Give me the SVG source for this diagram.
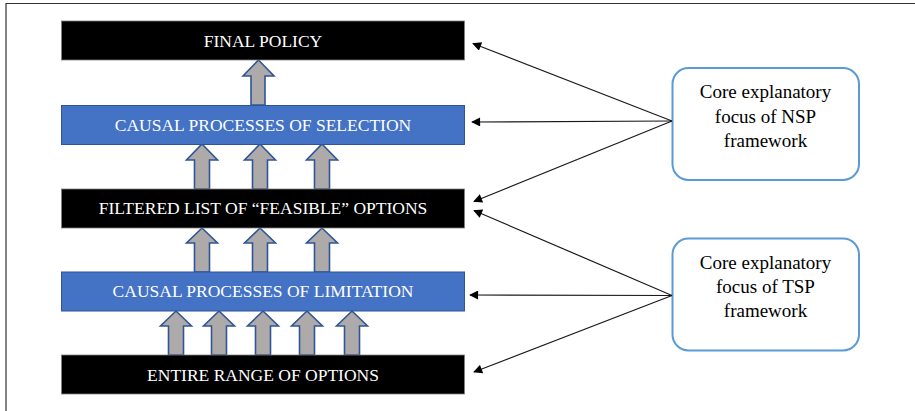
<svg xmlns="http://www.w3.org/2000/svg" width="915" height="411" viewBox="0 0 915 411">
  <style>
    .frame { fill: none; stroke: #333; stroke-width: 1.2; }
    .dark { fill: #000; stroke: #7f7f7f; stroke-width: 0.8; }
    .blue { fill: #4472c4; stroke: #2f5597; stroke-width: 1; }
    .lbl { font-family: "Liberation Serif", "Times New Roman", serif; font-size: 17.5px; fill: #fff; text-anchor: middle; }
    .up { fill: #aeaaaa; stroke: #2f5597; stroke-width: 1.6; stroke-linejoin: miter; }
    .callout { fill: #fff; stroke: #5b9bd5; stroke-width: 2; }
    .ctext { font-family: "Liberation Serif", "Times New Roman", serif; font-size: 19px; fill: #000; text-anchor: middle; }
    .link { stroke: #1a1a1a; stroke-width: 1.2; fill: none; marker-end: url(#tip); }
  </style>
  <defs>
    <marker id="tip" viewBox="0 0 10 10" refX="9" refY="5" markerWidth="10" markerHeight="9" markerUnits="userSpaceOnUse" orient="auto">
      <path d="M0,0 L10,5 L0,10 z" fill="#000"/>
    </marker>
    <!-- block arrow pointing up, tip at origin -->
    <path id="upA" d="M0,0 L15.5,16 L7.5,16 L7.5,45 L-7.5,45 L-7.5,16 L-15.5,16 Z"/>
    <path id="upB" d="M0,0 L15.5,15 L7.5,15 L7.5,44 L-7.5,44 L-7.5,15 L-15.5,15 Z"/>
  </defs>

  <!-- outer frame (top and left edges) -->
  <path class="frame" d="M6,411 L6,3.5 L915,3.5"/>

  <!-- upward block arrows -->
  <g id="flow-arrows">
    <path class="up" d="M258.5,60 L274,76 L265,76 L265,105 L251,105 L251,76 L243,76 Z"/>
    <use href="#upA" class="up" x="202" y="144"/>
    <use href="#upA" class="up" x="260" y="144"/>
    <use href="#upA" class="up" x="322" y="144"/>
    <use href="#upB" class="up" x="202" y="228"/>
    <use href="#upB" class="up" x="260" y="228"/>
    <use href="#upB" class="up" x="322" y="228"/>
    <use href="#upB" class="up" x="176" y="311"/>
    <use href="#upB" class="up" x="219" y="311"/>
    <use href="#upB" class="up" x="263" y="311"/>
    <use href="#upB" class="up" x="307" y="311"/>
    <use href="#upB" class="up" x="352" y="311"/>
  </g>

  <g id="final-policy">
    <rect class="dark" x="61.5" y="21" width="403" height="39"/>
    <text class="lbl" x="263" y="46.5">FINAL POLICY</text>
  </g>
  <g id="selection">
    <rect class="blue" x="61.5" y="105.5" width="403" height="39"/>
    <text class="lbl" x="263" y="131">CAUSAL PROCESSES OF SELECTION</text>
  </g>
  <g id="feasible">
    <rect class="dark" x="61.5" y="189" width="403" height="39"/>
    <text class="lbl" x="263" y="213.5">FILTERED LIST OF “FEASIBLE” OPTIONS</text>
  </g>
  <g id="limitation">
    <rect class="blue" x="61.5" y="272" width="403" height="39"/>
    <text class="lbl" x="263" y="297">CAUSAL PROCESSES OF LIMITATION</text>
  </g>
  <g id="entire-range">
    <rect class="dark" x="61.5" y="355" width="403" height="39"/>
    <text class="lbl" x="263" y="380.5">ENTIRE RANGE OF OPTIONS</text>
  </g>

  <g id="nsp-focus">
    <rect class="callout" x="672.5" y="68" width="186.5" height="112" rx="16"/>
    <text class="ctext" x="765.5" y="98">Core explanatory</text>
    <text class="ctext" x="765.5" y="122.5">focus of NSP</text>
    <text class="ctext" x="765.5" y="146.5">framework</text>
  </g>
  <g id="tsp-focus">
    <rect class="callout" x="672.5" y="238.5" width="186.5" height="112" rx="16"/>
    <text class="ctext" x="765.5" y="268.5">Core explanatory</text>
    <text class="ctext" x="765.5" y="293">focus of TSP</text>
    <text class="ctext" x="765.5" y="317">framework</text>
  </g>

  <!-- connectors from the framework boxes -->
  <g id="connectors">
    <path class="link" d="M672,121 L473,43.5"/>
    <path class="link" d="M672,121 L472,122"/>
    <path class="link" d="M672,121 L474,201.5"/>
    <path class="link" d="M672,295.5 L474,210.5"/>
    <path class="link" d="M672,295.5 L470,295"/>
    <path class="link" d="M672,295.5 L474,372"/>
  </g>
</svg>
